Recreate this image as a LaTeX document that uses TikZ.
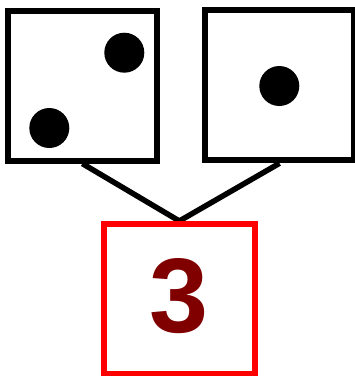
\documentclass[tikz,border=0pt]{standalone}
\usepackage{fontspec}
\setmainfont{Liberation Sans}
\definecolor{numred}{RGB}{128,0,0}
\begin{document}
\begin{tikzpicture}[x=1pt,y=-1pt,
  diebox/.style={draw=black,line width=6pt,rectangle,inner sep=0pt,minimum width=149.5pt,minimum height=150pt,fill=white},
  resbox/.style={draw=red,line width=6pt,rectangle,inner sep=0pt,minimum width=150.5pt,minimum height=150pt,fill=white},
  pip/.style={fill=black},
  link/.style={draw=black,line width=5.5pt}]
\useasboundingbox (0,0) rectangle (355,376);
\node[diebox] (dieL) at (82.35,85.6) {};
\node[diebox] (dieR) at (279.5,85.3) {};
\node[resbox] (res) at (179.35,299) {};
\draw[link] (dieL.south) -- (res.north);
\draw[link] (dieR.south) -- (res.north);
\node[diebox] at (dieL) {};
\node[diebox] at (dieR) {};
\node[resbox] at (res) {};
\fill[pip] (124.3,52.7) circle (20);
\fill[pip] (49.3,128) circle (20);
\fill[pip] (279.3,86) circle (20);
\node[text=numred,font=\fontsize{106}{106}\selectfont\bfseries,inner sep=0pt] (num) at (179,296) {3};
\end{tikzpicture}
\end{document}
